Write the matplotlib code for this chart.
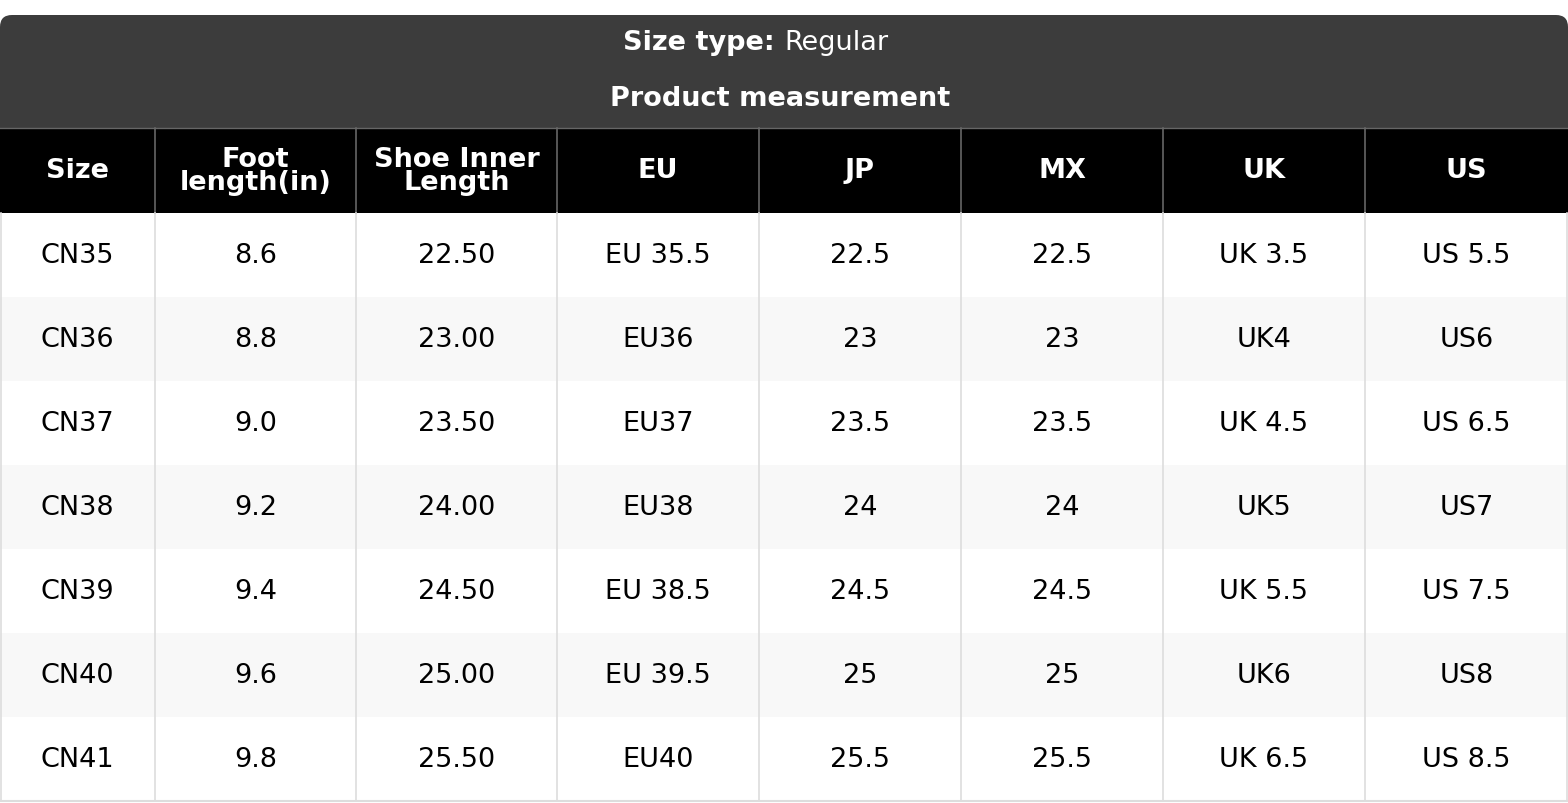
import matplotlib
matplotlib.use("Agg")
import matplotlib.pyplot as plt
from matplotlib.patches import Rectangle, FancyBboxPatch

columns = ["Size", "Foot\nlength(in)", "Shoe Inner\nLength", "EU", "JP", "MX", "UK", "US"]
sizes = ["CN35", "CN36", "CN37", "CN38", "CN39", "CN40", "CN41"]
foot = ["8.6", "8.8", "9.0", "9.2", "9.4", "9.6", "9.8"]
inner = ["22.50", "23.00", "23.50", "24.00", "24.50", "25.00", "25.50"]
eu = ["EU 35.5", "EU36", "EU37", "EU38", "EU 38.5", "EU 39.5", "EU40"]
jp = ["22.5", "23", "23.5", "24", "24.5", "25", "25.5"]
mx = ["22.5", "23", "23.5", "24", "24.5", "25", "25.5"]
uk = ["UK 3.5", "UK4", "UK 4.5", "UK5", "UK 5.5", "UK6", "UK 6.5"]
us = ["US 5.5", "US6", "US 6.5", "US7", "US 7.5", "US8", "US 8.5"]
rows = list(zip(sizes, foot, inner, eu, jp, mx, uk, us))

W, H = 1568, 804
fig = plt.figure(figsize=(W/100, H/100), dpi=100)
ax = fig.add_axes([0, 0, 1, 1])
ax.set_xlim(0, W); ax.set_ylim(H, 0); ax.axis("off")

xs = [0, 155, 356, 557, 759, 961, 1163, 1365, 1568]
top, hdr_bot, col_bot, rh = 16, 129, 214, 84
fs = 19.5

ax.add_patch(FancyBboxPatch((0, top), W, 150, boxstyle="round,pad=0,rounding_size=12",
                            fc="#3c3c3c", ec="none"))
ax.text(784, 43, "Size type: ", ha="right", va="center", color="white", fontsize=fs, weight="bold")
ax.text(784, 43, "Regular", ha="left", va="center", color="white", fontsize=fs)
ax.text(780, 99, "Product measurement", ha="center", va="center", color="white", fontsize=fs, weight="bold")

ax.add_patch(Rectangle((0, hdr_bot), W, col_bot - hdr_bot, fc="black", ec="none"))
ax.plot([0, W], [hdr_bot, hdr_bot], color="#666666", lw=1)
for i, c in enumerate(columns):
    ax.text((xs[i] + xs[i+1]) / 2, (hdr_bot + col_bot) / 2, c, ha="center", va="center",
            color="white", fontsize=fs, weight="bold", linespacing=0.85)
    if 0 < i:
        ax.plot([xs[i], xs[i]], [hdr_bot, col_bot], color="#666666", lw=1.2)

for r, row in enumerate(rows):
    y0 = col_bot + r * rh
    ax.add_patch(Rectangle((0, y0), W, rh, fc="#f8f8f8" if r % 2 else "white", ec="none"))
    for i, v in enumerate(row):
        ax.text((xs[i] + xs[i+1]) / 2, y0 + rh / 2, v, ha="center", va="center",
                color="black", fontsize=fs)
for i in range(1, len(xs) - 1):
    ax.plot([xs[i], xs[i]], [col_bot, col_bot + 7 * rh], color="#dddddd", lw=1.2)
ax.plot([1, 1], [col_bot, col_bot + 7 * rh], color="#dddddd", lw=1.2)
ax.plot([W - 1, W - 1], [col_bot, col_bot + 7 * rh], color="#dddddd", lw=1.2)
ax.plot([0, W], [col_bot + 7 * rh, col_bot + 7 * rh], color="#dddddd", lw=1.5)

fig.savefig("out.png", dpi=100, facecolor="white")
